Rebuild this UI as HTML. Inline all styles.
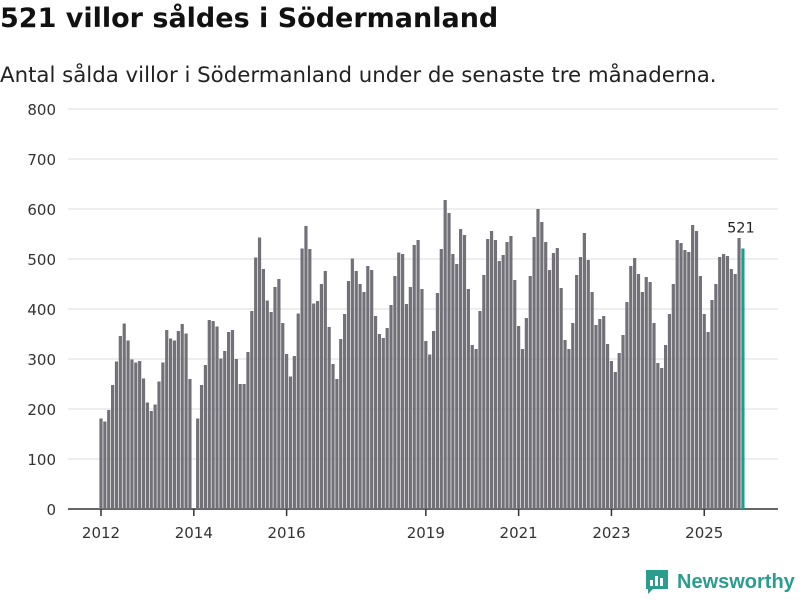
<!DOCTYPE html>
<html><head><meta charset="utf-8"><style>
body{margin:0;width:800px;height:600px;background:#fff;font-family:"DejaVu Sans","Liberation Sans",sans-serif;overflow:hidden}
h1{position:absolute;left:0;top:3px;margin:0;font-size:27px;font-weight:bold;color:#111;white-space:nowrap}
p.sub{position:absolute;left:0;top:63px;margin:0;font-size:21.3px;color:#222;white-space:nowrap}
svg{position:absolute;left:0;top:0}
</style></head><body>
<h1>521 villor såldes i Södermanland</h1>
<p class="sub">Antal sålda villor i Södermanland under de senaste tre månaderna.</p>
<svg id="chart" width="800" height="600"></svg>
<script>
const values = [
181,175,198,248,295,346,371,337,299,293,296,261,
213,196,209,255,293,358,341,337,356,370,351,260,
0,181,248,288,378,376,365,301,316,354,358,300,
250,250,314,396,503,543,480,417,394,444,460,372,
310,265,306,391,521,566,520,411,416,450,476,364,
290,260,340,390,456,501,476,450,434,486,478,386,
350,342,362,408,466,513,510,410,444,528,538,440,
336,309,356,432,520,618,592,510,490,560,548,440,
328,320,396,468,540,556,538,496,508,534,546,458,
366,320,382,466,544,600,574,534,478,512,522,442,
338,320,372,468,504,552,498,434,368,380,386,330,
296,274,312,348,414,486,502,470,434,464,454,372,
292,282,328,390,450,538,532,518,514,568,556,466,
390,354,418,450,504,510,506,480,470,542,521];
const startYear = 2012;
const yTicks = [0,100,200,300,400,500,600,700,800];
const xTickYears = [2012,2014,2016,2019,2021,2023,2025];
const NS="http://www.w3.org/2000/svg";
const svg=document.getElementById('chart');
const y=v=>509-v*0.5;
const x=i=>101+i*3.867;
function mk(t,a){const e=document.createElementNS(NS,t);for(const k in a)e.setAttribute(k,a[k]);svg.appendChild(e);return e;}
yTicks.forEach(t=>{
  const g=mk('line',{x1:68,x2:778,y1:y(t),y2:y(t),stroke:t===0?'#333':'#dcdcdc','stroke-width':t===0?1.5:1});
  
  
  const l=mk('text',{x:56,y:y(t)+6,'text-anchor':'end','font-size':15,fill:'#333'});
  l.textContent=t;
  
  
});
values.forEach((v,i)=>{
  if(!v)return;
  const last=i===values.length-1;
  const r=mk('rect',{x:x(i)-1.6,y:y(v),width:3.2,height:v*0.5,fill:last?'#1a9e8f':'#737178'});
  
  
});
const li=values.length-1;
const lab=mk('text',{x:x(li)-2,y:y(values[li])-16,'text-anchor':'middle','font-size':14.5,fill:'#222'});
lab.textContent=values[li];


xTickYears.forEach(yr=>{
  const xi=x((yr-startYear)*12);
  const t=mk('line',{x1:xi,x2:xi,y1:509,y2:516,stroke:'#333','stroke-width':1.5});
  
  
  const l=mk('text',{x:xi,y:538,'text-anchor':'middle','font-size':15,fill:'#333'});
  l.textContent=yr;
  
  
});
</script>
<div style="position:absolute;left:645px;top:569px;display:flex;align-items:center;gap:8px">
<svg width="24" height="26" style="position:static"><path d="M1 1h22v19H8l-5 5v-5H1z" fill="#2a9d8f"/><rect x="5" y="11" width="3" height="6" fill="#fff"/><rect x="10" y="7" width="3" height="10" fill="#fff"/><rect x="15" y="9" width="3" height="8" fill="#fff"/></svg>
<span style="font-family:'Liberation Sans',sans-serif;font-size:20px;font-weight:bold;color:#2a9d8f">Newsworthy</span></div>
</body></html>
